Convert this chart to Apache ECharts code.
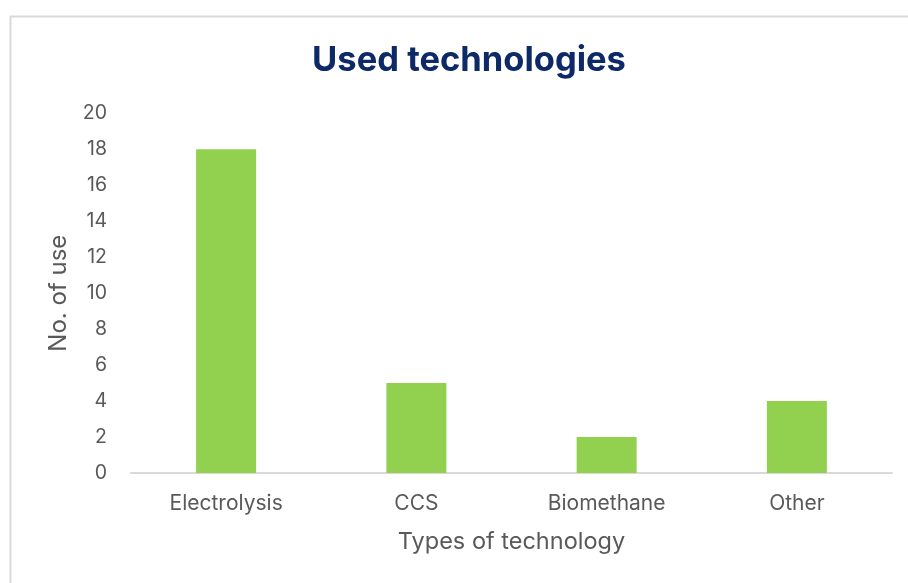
<!DOCTYPE html>
<html><head><meta charset="utf-8">
<script src="https://cdn.jsdelivr.net/npm/echarts@6/dist/echarts.min.js"></script>
<style>html,body{margin:0;padding:0;background:#fff}#c{width:908px;height:583px}</style>
</head><body><div id="c"></div>
<script>
const categories = ['Electrolysis', 'CCS', 'Biomethane', 'Other'];
const values = [18, 5, 2, 4];
const yTicks = [0, 2, 4, 6, 8, 10, 12, 14, 16, 18, 20];

const chart = echarts.init(document.getElementById('c'), null, {renderer: 'canvas'});
const font = 'Inter, "Open Sans", sans-serif';
chart.setOption({
  animation: false,
  backgroundColor: '#ffffff',
  graphic: [{
    type: 'rect', left: 8, top: 14, silent: true,
    shape: {x: 0, y: 0, width: 1000, height: 700},
    style: {fill: 'none', stroke: '#d9d9d9', lineWidth: 2}
  }],
  title: {
    text: 'Used technologies', left: 464, top: 38, textAlign: 'center',
    textStyle: {color: '#0e2a66', fontSize: 34.5, fontWeight: 'bold', fontFamily: font}
  },
  grid: {left: 131, right: 16, top: 113.4, bottom: 110, containLabel: false},
  xAxis: {
    type: 'category', data: categories,
    name: 'Types of technology', nameLocation: 'middle', nameGap: 57,
    nameTextStyle: {color: '#595959', fontSize: 23.5, fontFamily: font},
    axisLine: {lineStyle: {color: '#d9d9d9', width: 2}},
    axisTick: {show: false},
    axisLabel: {color: '#595959', fontSize: 21, margin: 20, fontFamily: font}
  },
  yAxis: {
    type: 'value', min: yTicks[0], max: yTicks[yTicks.length - 1], interval: 2,
    name: 'No. of use', nameLocation: 'middle', nameGap: 60,
    nameTextStyle: {color: '#595959', fontSize: 24, fontFamily: font},
    axisLine: {show: false}, axisTick: {show: false},
    splitLine: {show: false},
    axisLabel: {color: '#595959', fontSize: 19.5, margin: 24, fontFamily: font}
  },
  series: [{
    type: 'bar', data: values, barWidth: 60,
    itemStyle: {color: '#92d050'}
  }]
});
</script></body></html>
